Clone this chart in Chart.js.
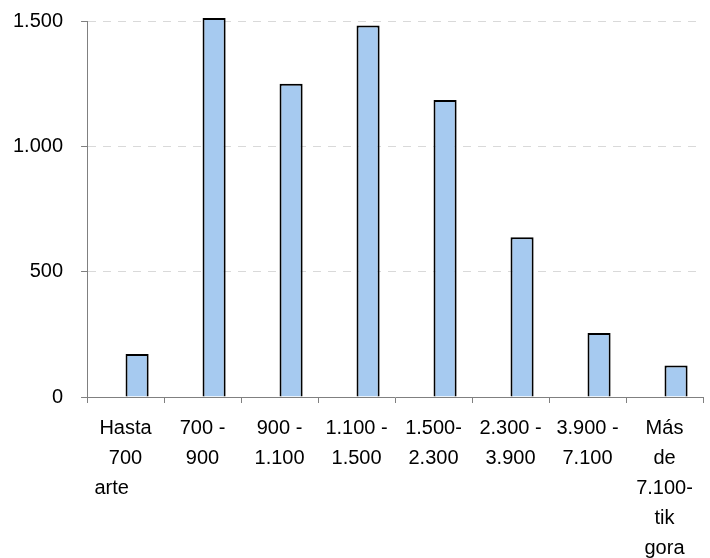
<!DOCTYPE html>
<html>
<head>
<meta charset="utf-8">
<script src="https://cdn.jsdelivr.net/npm/chart.js@4"></script>
<style>
  html, body { margin: 0; padding: 0; background: #fff; }
  #wrap { width: 710px; height: 558px; }
</style>
</head>
<body>
<div id="wrap"><canvas id="chart"></canvas></div>
<script>
// categories (multi-line labels as in the original)
const categories = [
  ['Hasta', '700', 'arte     '],
  ['700 -', '900'],
  ['900 -', '1.100'],
  ['1.100 -', '1.500'],
  ['1.500-', '2.300'],
  ['2.300 -', '3.900'],
  ['3.900 -', '7.100'],
  ['Más', 'de', '7.100-', 'tik', 'gora']
];

// values
const values = [172, 1512, 1250, 1482, 1185, 637, 255, 126];

// the original has an empty first series, which pushes the bars right of centre
const emptySeries = [null, null, null, null, null, null, null, null];

const yTicks = [0, 500, 1000, 1500];

const FAMILY = "'Liberation Sans', Arial, sans-serif";

function fmt(n) {
  return String(n).replace(/\B(?=(\d{3})+(?!\d))/g, '.');
}

new Chart(document.getElementById('chart'), {
  type: 'bar',
  data: {
    labels: categories,
    datasets: [
      { label: 'empty', data: emptySeries },
      {
        label: 'values',
        data: values,
        backgroundColor: '#a6caf0',
        borderColor: '#000',
        borderWidth: 2,
        clip: false
      }
    ]
  },
  options: {
    responsive: true,
    maintainAspectRatio: false,
    animation: false,
    categoryPercentage: 0.6,
    barPercentage: 1.0,
    layout: { padding: { top: 0, right: 7, bottom: -15, left: -5 } },
    plugins: { legend: { display: false }, tooltip: { enabled: false } },
    scales: {
      x: {
        grid: { drawOnChartArea: false, tickLength: 6, tickColor: '#808080', offset: true },
        border: { color: '#808080', width: 1 },
        ticks: {
          color: '#000',
          font: { family: FAMILY, size: 20, lineHeight: 1.5 },
          padding: 10, maxRotation: 0, autoSkip: false
        }
      },
      y: {
        min: 0,
        max: 1500,
        afterBuildTicks: axis => { axis.ticks = yTicks.map(v => ({ value: v })); },
        grid: {
          color: ctx => (ctx.tick && ctx.tick.value === 0 ? 'rgba(0,0,0,0)' : '#d9d9d9'),
          tickBorderDash: [],
          tickColor: '#808080',
          tickLength: 6
        },
        border: { color: '#808080', width: 1, dash: [8, 7] },
        // small lineHeight keeps the label from pushing the plot area down
        ticks: {
          color: '#000',
          font: { family: FAMILY, size: 20, lineHeight: 0.3 },
          padding: 18, callback: v => fmt(v)
        }
      }
    }
  }
});
</script>
</body>
</html>
